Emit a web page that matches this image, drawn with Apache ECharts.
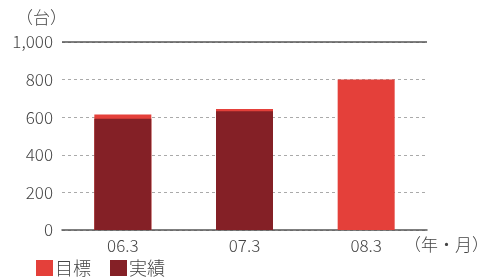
<!DOCTYPE html>
<html><head><meta charset="utf-8">
<script src="https://cdn.jsdelivr.net/npm/echarts@6/dist/echarts.min.js"></script>
<style>html,body{margin:0;padding:0;background:#fff}#c{width:484px;height:278px}</style>
</head><body><div id="c"></div>
<script>
const categories = ['06.3', '07.3', '08.3'];
const targetValues = [615, 643, 800];
const actualValues = [592, 632, null];
const yTicks = [0, 200, 400, 600, 800, 1000];
const FONT = '"Noto Sans CJK JP", "Noto Sans", sans-serif';
const W = 300;
const chart = echarts.init(document.getElementById('c'));
chart.setOption({
  animation: false,
  textStyle: { fontFamily: FONT, fontWeight: W },
  grid: { left: 62, right: 57, top: 42, bottom: 48 },
  legend: {
    left: 36, bottom: 1, padding: 0, itemWidth: 17, itemHeight: 16, itemGap: 19,
    icon: 'rect',
    textStyle: { fontSize: 18, color: '#444', fontFamily: FONT, fontWeight: W, padding: [0, 0, 0, -3] },
    data: ['目標', '実績']
  },
  xAxis: {
    type: 'category', data: categories,
    axisLine: { lineStyle: { color: '#555', width: 1.5 } },
    axisTick: { show: false },
    axisLabel: { fontSize: 17, color: '#444', margin: 7, fontFamily: FONT, fontWeight: W }
  },
  yAxis: {
    type: 'value', min: 0, max: 1000, interval: 200,
    axisLine: { show: false }, axisTick: { show: false },
    axisLabel: { fontSize: 17, color: '#444', margin: 9, fontFamily: FONT, fontWeight: W,
      formatter: v => yTicks.includes(v) ? v.toLocaleString('en-US') : '' },
    splitLine: { lineStyle: { color: '#aaa', type: [3, 3], width: 1 } }
  },
  graphic: [
    { type: 'text', left: 16, top: 9, style: { text: '（台）', fontSize: 17, fill: '#444', fontFamily: FONT, fontWeight: W } },
    { type: 'text', left: 404, top: 236, style: { text: '（年・月）', fontSize: 17, fill: '#444', fontFamily: FONT, fontWeight: W } }
  ],
  series: [
    { name: '目標', type: 'bar', data: targetValues, barWidth: 57, barGap: '-100%',
      itemStyle: { color: '#E4403A' },
      markLine: { silent: true, symbol: 'none', label: { show: false },
        lineStyle: { color: '#555', type: 'solid', width: 1.5 },
        data: [{ yAxis: 1000 }] } },
    { name: '実績', type: 'bar', data: actualValues, barWidth: 57,
      itemStyle: { color: '#842026' } }
  ]
});
</script></body></html>
